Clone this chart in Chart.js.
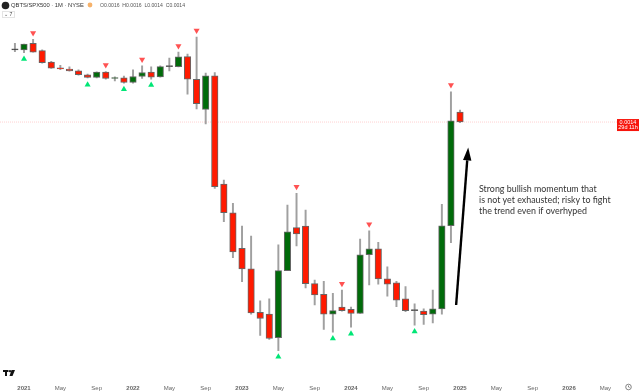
<!DOCTYPE html>
<html>
<head>
<meta charset="utf-8">
<script src="https://cdn.jsdelivr.net/npm/chart.js@4"></script>
<style>
	html, body { margin:0; padding:0; background:#fff; }
	#wrap { position:relative; width:640px; height:392px; }
</style>
</head>
<body>
<div id="wrap"><canvas id="c" width="640" height="392"></canvas></div>
<script>
// QBTS/SPX500 monthly, all prices in units of 0.0001
const months = ['Nov 20','Dec 20',
	'Jan 21','Feb 21','Mar 21','Apr 21','May 21','Jun 21','Jul 21','Aug 21','Sep 21','Oct 21','Nov 21','Dec 21',
	'Jan 22','Feb 22','Mar 22','Apr 22','May 22','Jun 22','Jul 22','Aug 22','Sep 22','Oct 22','Nov 22','Dec 22',
	'Jan 23','Feb 23','Mar 23','Apr 23','May 23','Jun 23','Jul 23','Aug 23','Sep 23','Oct 23','Nov 23','Dec 23',
	'Jan 24','Feb 24','Mar 24','Apr 24','May 24','Jun 24','Jul 24','Aug 24','Sep 24','Oct 24','Nov 24','Dec 24',
	'Jan 25','Feb 25','Mar 25','Apr 25','May 25','Jun 25','Jul 25','Aug 25','Sep 25','Oct 25','Nov 25','Dec 25',
	'Jan 26','Feb 26','Mar 26','Apr 26','May 26','Jun 26']

const tickLabels = { 'Jan 21':'2021','May 21':'May','Sep 21':'Sep','Jan 22':'2022','May 22':'May','Sep 22':'Sep',
	'Jan 23':'2023','May 23':'May','Sep 23':'Sep','Jan 24':'2024','May 24':'May','Sep 24':'Sep',
	'Jan 25':'2025','May 25':'May','Sep 25':'Sep','Jan 26':'2026','May 26':'May' }

const opens = [null,33.5,
	33.5,36.3,33.2,28.9,27.0,26.6,26.0,24.8,24.0,25.6,23.7,23.9,
	22.6,24.3,25.6,24.2,27.4,27.4,30.9,23.5,16.3,24.5,6.61,4.67,
	3.04,2.37,1.40,1.37,1.03,2.32,3.90,3.97,1.98,1.74,1.37,1.49,
	1.45,1.38,2.81,3.02,2.10,2.00,1.65,1.43,1.42,1.37,1.46,3.99,
	15.8]
const closes = [null,33.6,
	36.0,32.6,28.7,26.9,26.6,26.0,24.8,24.0,25.6,23.7,24.0,22.6,
	24.3,25.5,24.1,27.4,27.6,30.8,23.5,17.5,24.5,6.40,4.67,2.91,
	2.37,1.39,1.30,1.02,2.32,3.71,3.62,1.98,1.73,1.37,1.43,1.43,
	1.38,2.81,3.02,2.10,1.97,1.62,1.43,1.44,1.36,1.46,3.99,14.2,
	14.0]
const highs = [null,36.3,
	36.0,38.1,33.5,29.2,27.8,27.3,26.3,25.0,25.7,25.8,24.2,24.4,
	26.3,27.6,27.3,27.6,30.4,32.6,31.9,39.1,25.3,25.5,6.94,5.24,
	3.98,3.52,1.61,1.65,3.17,5.13,5.91,4.83,2.07,2.04,1.76,1.83,
	1.49,3.40,3.75,3.27,2.43,2.04,1.91,1.55,1.46,1.83,5.17,20.2,
	16.2]
const lows = [null,32.8,
	32.4,32.6,28.5,26.8,26.4,25.9,24.7,23.9,23.9,23.5,23.0,22.4,
	22.4,23.7,23.5,24.1,26.0,27.3,19.6,16.4,13.7,6.28,4.19,2.71,
	2.03,1.37,1.06,1.01,0.88,2.32,3.13,1.88,1.53,1.14,1.10,1.42,
	1.17,1.38,1.95,1.97,1.70,1.50,1.41,1.20,1.21,1.23,1.37,3.25,
	13.9]

const sellMonths = ['Feb 21','Oct 21','Feb 22','Jun 22','Aug 22','Jul 23','Dec 23','Mar 24','Dec 24']
const sellValues = [41.1,27.9,29.8,35.1,42.4,6.40,1.98,4.06,21.9]
const buyMonths = ['Jan 21','Aug 21','Dec 21','Mar 22','May 23','Nov 23','Jan 24','Aug 24']
const buyValues = [30.0,22.0,20.8,21.9,0.819,1.02,1.08,1.11]

const lastPrice = 14.0
const noteLines = ['Strong bullish momentum that','is not yet exhausted; risky to fight','the trend even if overhyped']
const arrowIndex = [49.57,50.9]
const arrowValue = [1.53,10.3]

const candleColor = i => {
	if (opens[i] === null) return 'rgba(0,0,0,0)'
	if (Math.abs(closes[i] - opens[i]) / opens[i] < 0.012) return '#333'
	return closes[i] >= opens[i] ? '#006b0a' : '#ff1a00'
}

const overlay = {
	id:'overlay',
	beforeDatasetsDraw(chart) {
		const g = chart.ctx, y = chart.scales.y.getPixelForValue(lastPrice)
		g.save()
		g.strokeStyle = '#ffd2d2'
		g.lineWidth = 1
		g.setLineDash([1,1])
		g.beginPath(); g.moveTo(0, y); g.lineTo(chart.chartArea.right, y); g.stroke()
		g.restore()
	},
	afterDraw(chart) {
		const g = chart.ctx, xs = chart.scales.x, ys = chart.scales.y
		g.save()

		// arrow
		const x0 = xs.getPixelForValue(arrowIndex[0]), y0 = ys.getPixelForValue(arrowValue[0])
		const x1 = xs.getPixelForValue(arrowIndex[1]), y1 = ys.getPixelForValue(arrowValue[1])
		const ang = Math.atan2(y1 - y0, x1 - x0), hl = 13, hw = 4.2
		const bx = x1 - Math.cos(ang) * hl, by = y1 - Math.sin(ang) * hl
		g.strokeStyle = '#000'
		g.lineWidth = 2.4
		g.beginPath(); g.moveTo(x0, y0); g.lineTo(bx, by); g.stroke()
		g.fillStyle = '#000'
		g.beginPath()
		g.moveTo(x1, y1)
		g.lineTo(bx - Math.sin(ang) * hw, by + Math.cos(ang) * hw)
		g.lineTo(bx + Math.sin(ang) * hw, by - Math.cos(ang) * hw)
		g.closePath(); g.fill()

		// note
		g.textBaseline = 'middle'
		g.fillStyle = '#333'
		g.font = '8.9px Lato'
		noteLines.forEach((t, i) => g.fillText(t, 479, 189.5 + i * 11))

		// price tag
		const py = ys.getPixelForValue(lastPrice)
		g.fillStyle = '#f7150c'
		g.fillRect(617, py - 3, 22, 12)
		g.fillStyle = '#fff'
		g.textAlign = 'center'
		g.font = '5.5px "Liberation Sans"'
		g.fillText((lastPrice / 10000).toFixed(4), 628, py + 0.2)
		g.fillText('29d 11h', 628, py + 5.8)
		g.textAlign = 'left'

		// header
		g.fillStyle = '#222'
		g.beginPath(); g.arc(5.5, 5.5, 3.8, 0, 7); g.fill()
		g.fillStyle = '#333'
		g.font = '5.8px "Liberation Sans"'
		g.fillText('QBTS/SPX500 · 1M · NYSE', 11, 5.7)
		g.fillStyle = '#f6b26b'
		g.beginPath(); g.arc(90, 5, 2.4, 0, 7); g.fill()
		g.fillStyle = '#555'
		g.font = '5.1px "Liberation Sans"'
		g.fillText('O0.0016  H0.0016  L0.0014  C0.0014', 100, 5.7)
		g.strokeStyle = '#e4e4e4'
		g.lineWidth = 1
		g.strokeRect(2.5, 11.5, 12, 6)
		g.fillStyle = '#444'
		g.fillText('⌄ 7', 4, 14.5)

		// logo
		g.fillStyle = '#111'
		g.fillRect(3, 370, 5.5, 2)
		g.fillRect(5, 370, 2, 6)
		g.beginPath(); g.arc(10, 371.2, 1.1, 0, 7); g.fill()
		g.beginPath(); g.moveTo(11.5, 370); g.lineTo(15, 370); g.lineTo(12.5, 376); g.lineTo(9.5, 376); g.closePath(); g.fill()

		// clock
		g.strokeStyle = '#555'
		g.lineWidth = 0.7
		g.beginPath(); g.arc(628.5, 387, 2.8, 0, 7); g.moveTo(628.5, 385.5); g.lineTo(628.5, 387); g.lineTo(629.6, 387.6); g.stroke()
		g.restore()
	}
}

new Chart(document.getElementById('c'), {
	data: {
		labels: months,
		datasets: [
			{
				type:'line', order:1, data: sellMonths.map((m, i) => ({x:m, y:sellValues[i]})),
				showLine:false, pointStyle:'triangle', rotation:180, pointRadius:3.5,
				backgroundColor:'#ff5252', borderColor:'#ff5252', borderWidth:0,
			},
			{
				type:'line', order:1, data: buyMonths.map((m, i) => ({x:m, y:buyValues[i]})),
				showLine:false, pointStyle:'triangle', pointRadius:3.5,
				backgroundColor:'#00e676', borderColor:'#00e676', borderWidth:0,
			},
			{
				type:'bar', order:2, grouped:false, barThickness:6.5, minBarLength:1,
				data: opens.map((o, i) => o === null ? null : [o, closes[i]]),
				backgroundColor: opens.map((o, i) => candleColor(i)),
				borderColor:'#666', borderWidth:1, borderSkipped:false,
			},
			{
				type:'bar', order:3, grouped:false, barThickness:1.3,
				data: highs.map((h, i) => h === null ? null : [lows[i], h]),
				backgroundColor:'#a0a0a0', borderWidth:0,
			},
		]
	},
	options: {
		responsive:false,
		animation:false,
		events:[],
		layout:{ autoPadding:false, padding:{ left:1.3, right:21, top:0, bottom:0 } },
		plugins:{ legend:{ display:false }, tooltip:{ enabled:false } },
		scales:{
			x:{
				type:'category',
				offset:true,
				grid:{ display:false },
				border:{ display:false },
				afterFit: s => { s.height = 16 },
				ticks:{
					autoSkip:false, maxRotation:0, minRotation:0, padding:1, color:'#666',
					font: c => ({ size:6, family:'"Liberation Sans"', weight:/^\d/.test(c.tick && c.tick.label) ? 'bold' : 'normal' }),
					callback: function(v) { return tickLabels[months[v]] || '' },
				},
			},
			y:{
				type:'logarithmic', display:false, bounds:'data', min:0.648, max:61.3,
			},
		},
	},
	plugins:[overlay],
})
</script>
</body>
</html>
